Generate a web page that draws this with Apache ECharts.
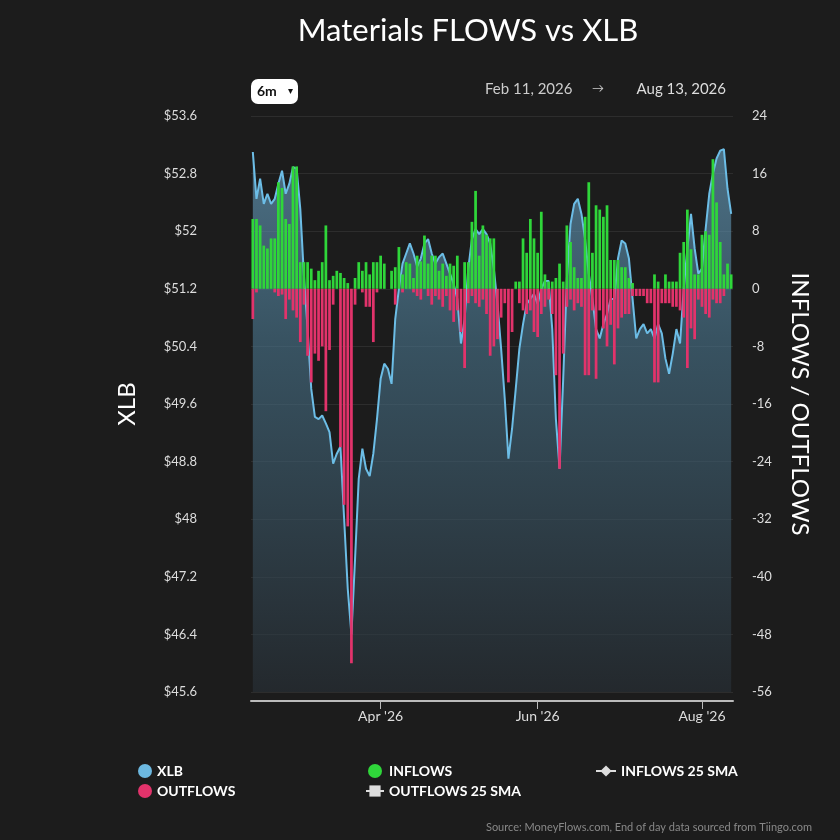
<!DOCTYPE html>
<html><head><meta charset="utf-8">
<script src="https://cdn.jsdelivr.net/npm/echarts@6/dist/echarts.min.js"></script>
<style>html,body{margin:0;padding:0;background:#1c1c1c}#c{width:840px;height:840px}</style>
</head><body><div id="c"></div>
<script>
var price = [53.10,52.45,52.73,52.38,52.52,52.38,52.45,52.66,52.84,52.52,52.66,52.89,52.87,52.31,51.38,50.64,49.81,49.42,49.39,49.44,
49.33,49.21,48.77,48.91,49.01,48.01,47.03,46.40,47.45,48.56,48.98,48.70,48.60,48.91,49.39,49.95,50.16,50.09,49.88,50.78,
51.20,51.55,51.69,51.83,51.69,51.51,51.62,51.83,51.89,51.69,51.55,51.64,51.69,51.55,51.41,51.27,51.06,50.44,50.78,51.48,
51.89,52.03,51.96,52.03,51.96,51.83,51.48,50.99,50.37,49.67,48.84,49.26,49.81,50.37,50.71,50.99,51.06,51.13,50.99,51.20,
51.31,51.31,50.64,49.39,48.70,49.95,51.34,52.10,52.38,52.45,52.24,51.89,51.41,51.06,50.64,50.51,50.71,50.85,51.06,51.06,
51.62,51.87,51.83,51.62,51.06,50.51,50.64,50.71,50.58,50.64,50.51,50.71,50.58,50.23,50.02,50.30,50.64,50.44,51.20,51.76,
52.24,51.76,51.41,51.48,52.03,52.52,52.80,53.01,53.12,53.14,52.59,52.24];
var inflows = [9.7,9.7,8.8,6,5.6,7,7,14.8,14,9.7,9,17,17,3.7,3.7,3.7,2.8,1.2,2.5,3.7,
8.8,1.2,1.8,2.5,2.2,1.5,0.8,0,1.5,3.7,2.5,3.7,2,3.7,3.7,4.6,3.5,0,2.5,3,
5.8,2,3.7,3.5,1.5,4.6,3.8,7.4,3.5,4.6,4.6,2.5,3.5,1.8,3.5,3.2,4.6,0,3.7,3.7,
9.3,13.6,4.6,8.8,7.5,7,7,0,0,0,0,0,1,1,7,5,9.7,7,5,10.7,
2,1,1,1.5,3.5,1,8.8,6.5,3,1.5,1.5,10,14.8,5,11.6,11,10,11.6,4,4,
4,3,3,1.5,0.8,0,0,0,0,0,2,1,0,2,1,1,1,5,6.5,11,
5.5,2,2,7.5,8,7.5,18,12,6.5,2,3.5,2];
var outflows = [-4.2,-0.5,0,0,0,0,-0.5,-1,-0.8,-4.2,-1.5,-3,-4,-7.4,-2.2,-9.3,-13,-9,-10,-8,
-17,-8.5,-2.2,0,-22,-30,-33,-52,-2.2,0,-0.5,-2.5,-2.5,-7.4,-0.5,0,0,0,0,-2.2,
0,-0.5,0,0,-0.5,-1,-1.5,0,-1,-2.2,-1,-1.5,-2.5,-1,-3,-4.6,-3,-6,-11,-2,
-1,-2,-2.5,-1.5,-3.5,-9.3,-8,-7,-4,-2,-13,-6,0,-2,-3,-3.5,-3,-6,-6.7,-3.5,
-2.5,-1.5,-3.5,-12,-25,-9,-2.5,-1.5,-3,-2,-2.5,-12,-12,-3,-12.5,-3,-5.5,-8,-5,-10.5,
-5.5,-4,-3.5,-3.5,-1,-1,-1,-1,-2,-2,-13,-13,-2,-2,-2,-2.5,-2.5,-3,-4,-11,
-5.5,-7,-1.5,-2.5,-3.5,-4,-1.5,-2,-2,-1,0,0];
var leftTicks = ['$45.6','$46.4','$47.2','$48','$48.8','$49.6','$50.4','$51.2','$52','$52.8','$53.6'];
var monthNames = ['Jan','Feb','Mar','Apr','May','Jun','Jul','Aug','Sep','Oct','Nov','Dec'];

var dates = [];
var d = new Date(Date.UTC(2026,1,11));
while (dates.length < price.length) {
  var wd = d.getUTCDay();
  if (wd !== 0 && wd !== 6) dates.push(d.getUTCFullYear()+'-'+(d.getUTCMonth()+1)+'-'+d.getUTCDate());
  d = new Date(d.getTime()+86400000);
}
var labelIdx = {};
var seen = {};
dates.forEach(function(s,i){ var m = +s.split('-')[1]; if(!seen[m]){seen[m]=1; if(m===4||m===6||m===8) labelIdx[i]=monthNames[m-1]+" '26";} });
function showIdx(i){ return labelIdx[i]!==undefined; }

var chart = echarts.init(document.getElementById('c'));
var F = 'Lato, "Open Sans", sans-serif';
chart.setOption({
  backgroundColor:'#1c1c1c',
  animation:false,
  title:{text:'Materials FLOWS vs XLB', left:463, top:10, textAlign:'center',
    textStyle:{color:'#ffffff', fontSize:31, fontWeight:'normal', fontFamily:F}},
  grid:{left:251, right:107, top:116, bottom:148},
  legend:[
    {data:[{name:'XLB',icon:'circle'},{name:'OUTFLOWS',icon:'circle'}], orient:'vertical', left:133, top:759, itemGap:6, itemWidth:14, itemHeight:14,
      textStyle:{color:'#fff', fontWeight:'bold', fontSize:14, fontFamily:F}},
    {data:[{name:'INFLOWS',icon:'circle'},'OUTFLOWS 25 SMA'], orient:'vertical', left:360, top:759, itemGap:6, itemWidth:18, itemHeight:14,
      textStyle:{color:'#fff', fontWeight:'bold', fontSize:14, fontFamily:F}},
    {data:['INFLOWS 25 SMA'], left:590, top:759, itemWidth:20, itemHeight:14,
      textStyle:{color:'#fff', fontWeight:'bold', fontSize:14, fontFamily:F}}
  ],
  xAxis:{type:'category', data:dates, boundaryGap:true, offset:9,
    axisLine:{onZero:false, lineStyle:{color:'#bbbbbb', width:2}},
    axisTick:{show:true, alignWithLabel:true, interval:function(i){return showIdx(i);}, lineStyle:{color:'#bbbbbb'}, length:8},
    axisLabel:{interval:function(i){return showIdx(i);}, formatter:function(v,i){return labelIdx[i]||'';}, color:'#dddddd', fontSize:14, fontFamily:F, margin:8}},
  yAxis:[
    {type:'value', min:45.6, max:53.6, interval:0.8, position:'left', name:'XLB', nameLocation:'middle', nameGap:112,
      nameTextStyle:{color:'#fff', fontSize:24, fontFamily:F},
      axisLabel:{color:'#dddddd', fontSize:13, fontFamily:F, margin:54, align:'right',
        formatter:function(v){ var k=Math.round((v-45.6)/0.8); return leftTicks[k]||''; }},
      axisLine:{show:false}, axisTick:{show:false},
      splitLine:{lineStyle:{color:'#2d2d2d'}}},
    {type:'value', min:-56, max:24, interval:8, position:'right', name:'INFLOWS / OUTFLOWS', nameLocation:'middle', nameGap:55, nameRotate:-90,
      nameTextStyle:{color:'#fff', fontSize:24, fontFamily:F},
      axisLabel:{color:'#dddddd', fontSize:13, fontFamily:F, margin:19},
      axisLine:{show:false}, axisTick:{show:false}, splitLine:{show:false}}
  ],
  series:[
    {name:'XLB', type:'line', yAxisIndex:0, data:price, symbol:'none', smooth:false, color:'#6cb8e0',
      lineStyle:{color:'#6cbde6', width:2},
      areaStyle:{origin:'start', color:new echarts.graphic.LinearGradient(0,0,0,1,[
        {offset:0,color:'rgba(110,170,205,0.85)'},{offset:0.35,color:'rgba(75,120,145,0.85)'},{offset:1,color:'rgba(40,48,55,0.9)'}])},
      z:1},
    {name:'INFLOWS', type:'bar', yAxisIndex:1, data:inflows, stack:'f', color:'#2fd63a', barWidth:'75%', itemStyle:{color:'#2fd63a'}, z:3},
    {name:'OUTFLOWS', type:'bar', yAxisIndex:1, data:outflows, stack:'f', color:'#e2336b', barWidth:'75%', itemStyle:{color:'#e2336b'}, z:3},
    {name:'INFLOWS 25 SMA', type:'line', yAxisIndex:1, data:[], symbol:'diamond', color:'#dddddd'},
    {name:'OUTFLOWS 25 SMA', type:'line', yAxisIndex:1, data:[], symbol:'rect', color:'#dddddd'}
  ],
  graphic:[
    {type:'rect', left:251, top:79, shape:{width:47, height:25, r:7}, style:{fill:'#ffffff'}},
    {type:'text', left:257, top:84, style:{text:'6m', fill:'#111', font:'bold 14px '+F}},
    {type:'text', left:288, top:86, style:{text:'▾', fill:'#111', font:'10px '+F}},
    {type:'text', left:485, top:82, style:{text:'Feb 11, 2026', fill:'#cccccc', font:'15px '+F}},
    {type:'text', left:592, top:82, style:{text:'→', fill:'#cccccc', font:'12px '+F}},
    {type:'text', right:114, top:82, style:{text:'Aug 13, 2026', fill:'#dddddd', font:'15px '+F}},
    {type:'text', right:28, top:822, style:{text:'Source: MoneyFlows.com, End of day data sourced from Tiingo.com', fill:'#888888', font:'11px '+F}}
  ]
});
</script></body></html>
